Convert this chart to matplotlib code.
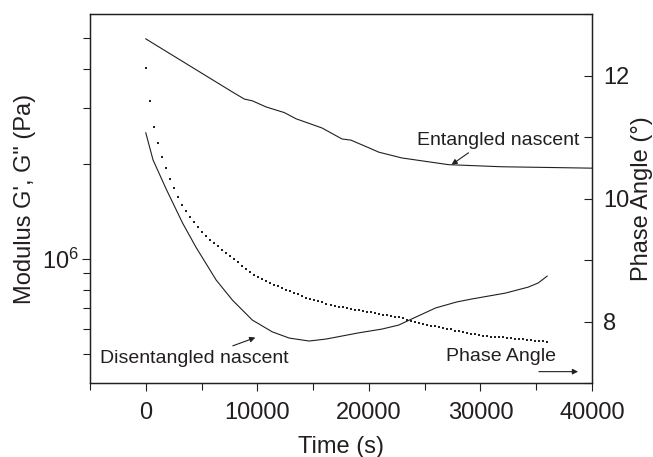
import matplotlib
matplotlib.use('Agg')
import matplotlib.pyplot as plt
import numpy as np

plt.rcParams['font.family'] = ['Liberation Sans', 'DejaVu Sans']
plt.rcParams['mathtext.fontset'] = 'custom'
plt.rcParams['mathtext.rm'] = 'Liberation Sans'
plt.rcParams['mathtext.it'] = 'Liberation Sans'

INK = '#231f20'

# Entangled nascent modulus (Pa) vs time (s)
ent_t = [0, 7770, 8840, 9550, 10800, 12410, 13480, 15800, 17590, 18390,
         20000, 20890, 22950, 27140, 31880, 40000]
ent_g = [4.98e6, 3.38e6, 3.21e6, 3.17e6, 3.03e6, 2.91e6, 2.78e6, 2.60e6, 2.40e6, 2.38e6,
         2.25e6, 2.18e6, 2.09e6, 1.99e6, 1.96e6, 1.94e6]

# Disentangled nascent modulus (Pa) vs time (s)
dis_t = [0, 650, 1850, 3300, 4500, 6310, 7770, 9550, 11340, 12860, 14640, 16160,
         19110, 21160, 22680, 23840, 25980, 27860, 29200, 32230, 34290, 35180, 35980]
dis_g = [2.51e6, 2.06e6, 1.66e6, 1.30e6, 1.09e6, 8.58e5, 7.41e5, 6.41e5, 5.88e5, 5.62e5, 5.50e5, 5.58e5,
         5.84e5, 6.00e5, 6.18e5, 6.46e5, 7.00e5, 7.31e5, 7.47e5, 7.80e5, 8.15e5, 8.40e5, 8.83e5]

# Phase angle (deg), one reading every 360 s
PHASE_STEP_S = 360
phase_deg = [12.12, 11.58, 11.16, 10.90, 10.68, 10.49, 10.31, 10.17, 10.02, 9.90,
             9.79, 9.70, 9.62, 9.53, 9.46, 9.39, 9.33, 9.27, 9.22, 9.17,
             9.11, 9.06, 9.01, 8.96, 8.91, 8.86, 8.81, 8.76, 8.72, 8.69,
             8.66, 8.63, 8.60, 8.57, 8.54, 8.52, 8.50, 8.47, 8.45, 8.42,
             8.39, 8.37, 8.35, 8.33, 8.31, 8.29, 8.27, 8.26, 8.24, 8.23,
             8.22, 8.20, 8.19, 8.18, 8.17, 8.16, 8.15, 8.14, 8.12, 8.11,
             8.10, 8.09, 8.08, 8.07, 8.05, 8.03, 8.01, 8.00, 7.98, 7.96,
             7.95, 7.93, 7.92, 7.91, 7.89, 7.88, 7.87, 7.85, 7.84, 7.83,
             7.81, 7.80, 7.79, 7.78, 7.77, 7.76, 7.75, 7.75, 7.74, 7.74,
             7.73, 7.73, 7.72, 7.72, 7.71, 7.70, 7.70, 7.69, 7.69, 7.68,
             7.66]
phase_t = np.arange(len(phase_deg)) * PHASE_STEP_S

fig = plt.figure(figsize=(6.53, 4.57), dpi=100)
ax = fig.add_axes([90/653, 1-383/457, (592-90)/653, (383-14)/457])
ax2 = ax.twinx()

ax.plot(ent_t, ent_g, color=INK, lw=0.8)
ax.plot(dis_t, dis_g, color=INK, lw=0.8)
ax2.plot(phase_t, phase_deg, ls='none', marker='s', ms=1.7, mew=0, color=INK)

ax.set_yscale('log')
ax.set_xlim(-5000, 40000)
ax.set_ylim(4.05e5, 5.97e6)
ax2.set_ylim(7, 13)

ax.set_xticks([0, 10000, 20000, 30000, 40000])
ax.set_xticks([-5000, 5000, 15000, 25000, 35000], minor=True)
ax.set_yticks([1e6])
ax.set_yticks([5e5, 6e5, 7e5, 8e5, 9e5, 2e6, 3e6, 4e6, 5e6], minor=True)
ax.yaxis.set_minor_formatter(matplotlib.ticker.NullFormatter())
ax2.set_yticks([8, 10, 12])
ax2.set_yticks([7, 9, 11, 13], minor=True)

ax.tick_params(which='both', direction='out', colors=INK, labelsize=17, width=0.8)
ax.tick_params(which='major', length=6)
ax.tick_params(which='minor', length=5)
ax.tick_params(axis='x', pad=8)
ax.tick_params(axis='y', pad=2)
ax2.tick_params(which='both', direction='in', colors=INK, labelsize=17, width=0.8, pad=8)
ax2.tick_params(which='major', length=6)
ax2.tick_params(which='minor', length=6)
for a in (ax, ax2):
    for s in a.spines.values():
        s.set_linewidth(0.9)
        s.set_color(INK)

ax.set_xlabel('Time (s)', fontsize=17, color=INK, labelpad=8)
ax.set_ylabel('Modulus G\', G" (Pa)', fontsize=17, color=INK, labelpad=4)
ax2.set_ylabel('Phase Angle (\u00b0)', fontsize=17, color=INK, labelpad=1)

arrow = dict(arrowstyle='-|>', lw=0.8, color=INK, mutation_scale=8, shrinkA=0, shrinkB=0)

ax.text(31610, 2.38e6, 'Entangled nascent', fontsize=14, color=INK, ha='center', va='center')
ax.annotate('', xy=(27410, 1.99e6), xytext=(28930, 2.17e6), arrowprops=arrow)

ax.text(4310, 4.84e5, 'Disentangled nascent', fontsize=14, color=INK, ha='center', va='center')
ax.annotate('', xy=(9820, 5.64e5), xytext=(7800, 5.31e5), arrowprops=arrow)

ax.text(31860, 4.93e5, 'Phase Angle', fontsize=14, color=INK, ha='center', va='center')
ax.annotate('', xy=(38750, 4.40e5), xytext=(35240, 4.40e5), arrowprops=arrow)

fig.savefig('out.png', dpi=100)
